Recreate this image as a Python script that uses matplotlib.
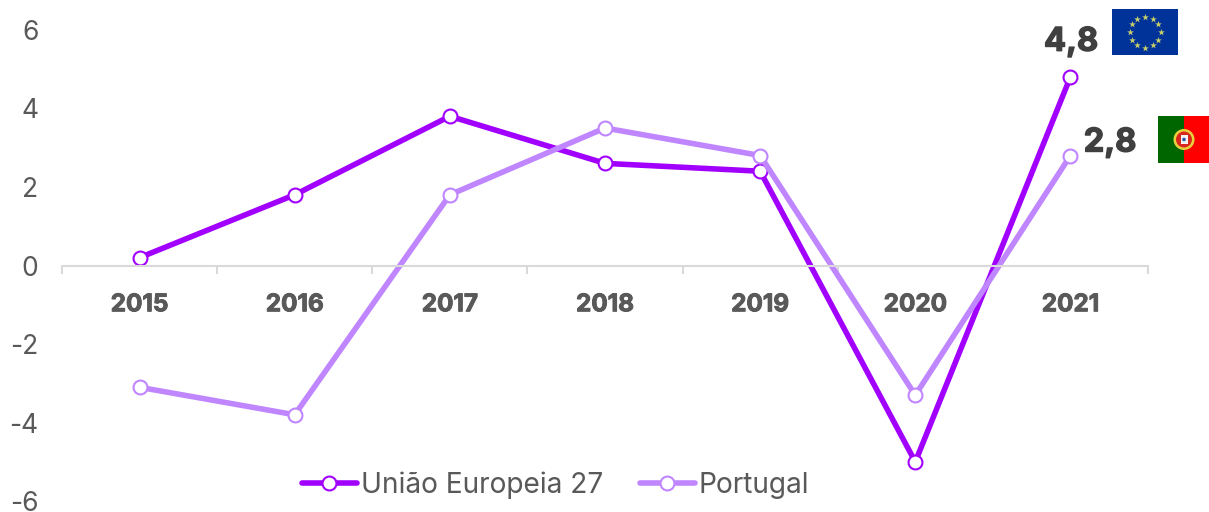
import numpy as np
import matplotlib
matplotlib.use("Agg")
import matplotlib.pyplot as plt
import matplotlib.patheffects as pe
from matplotlib.patches import Rectangle, Circle

W, H = 1209, 512

years = ["2015", "2016", "2017", "2018", "2019", "2020", "2021"]
ue27 = [0.2, 1.8, 3.8, 2.6, 2.4, -5.0, 4.8]
portugal = [-3.1, -3.8, 1.8, 3.5, 2.8, -3.3, 2.8]
y_ticks = [-6, -4, -2, 0, 2, 4, 6]

COL_UE = "#a100ff"
COL_PT = "#bf86ff"
COL_TXT = "#595959"
COL_VAL = "#404040"
COL_AXIS = "#d9d9d9"
BASE_FONT = "Inter"
BOLD_FONT = "Inter"

plt.rcParams["font.family"] = [BASE_FONT, "DejaVu Sans"]

fig = plt.figure(figsize=(W / 100, H / 100), dpi=100)
ax = fig.add_axes([62 / W, 1 - 501.2 / H, (1148 - 62) / W, (501.2 - 29.8) / H])

x = np.arange(len(years))
for vals, col, name in [(ue27, COL_UE, "União Europeia 27"), (portugal, COL_PT, "Portugal")]:
    ax.plot(x, vals, color=col, lw=4, marker="o", ms=10, mfc="white", mec=col, mew=1.5,
            label=name, solid_capstyle="round", solid_joinstyle="round", clip_on=False)

ax.set_xlim(-0.5, 6.5)
ax.set_ylim(-6, 6)
for s in ["top", "left", "right"]:
    ax.spines[s].set_visible(False)
ax.spines["bottom"].set_position(("data", 0))
ax.spines["bottom"].set_color(COL_AXIS)
ax.spines["bottom"].set_linewidth(1.5)

ax.set_xticks(x)
ax.set_xticklabels(years, fontsize=17.5, fontweight="bold", family=BOLD_FONT, color=COL_TXT,
                   path_effects=[pe.withStroke(linewidth=0.7, foreground=COL_TXT)])
ax.set_xticks(np.arange(-0.5, 7), minor=True)
ax.tick_params(axis="x", which="major", length=0, pad=20)
ax.tick_params(axis="x", which="minor", length=6, width=1.5, color=COL_AXIS)
ax.set_yticks(y_ticks)
ax.set_yticklabels([str(v) for v in y_ticks], fontsize=19, color=COL_TXT, va="center_baseline")
ax.tick_params(axis="y", length=0, pad=17)

# value labels for 2021
stroke = [pe.withStroke(linewidth=1.0, foreground=COL_VAL)]
ax.annotate("4,8", (6, ue27[6]), xytext=(0.5, 25), textcoords="offset points", ha="center", va="center",
            fontsize=23.5, fontweight="bold", family=BOLD_FONT, color=COL_VAL, path_effects=stroke)
ax.annotate("2,8", (6, portugal[6]), xytext=(28.5, 9), textcoords="offset points", ha="center", va="center",
            fontsize=23.5, fontweight="bold", family=BOLD_FONT, color=COL_VAL, path_effects=stroke)

leg = ax.legend(loc="center", bbox_to_anchor=(555.5 / W, 1 - 485 / H), bbox_transform=fig.transFigure,
                ncol=2, frameon=False, fontsize=20.2, handlelength=1.96, handletextpad=0.14,
                columnspacing=1.32, borderpad=0, borderaxespad=0)
for t in leg.get_texts():
    t.set_color(COL_TXT)

# flags, drawn in pixel coordinates
ov = fig.add_axes([0, 0, 1, 1])
ov.set_xlim(0, W)
ov.set_ylim(H, 0)
ov.axis("off")
ov.patch.set_alpha(0)

ov.add_patch(Rectangle((1112, 9), 66, 46, color="#003399", lw=0))
ang = np.arange(12) * np.pi / 6
ov.scatter(1145 + 15.5 * np.sin(ang), 32 - 15.5 * np.cos(ang), marker="*", s=26, color="#c8cf6a", lw=0)

ov.add_patch(Rectangle((1158, 116), 26, 47, color="#006600", lw=0))
ov.add_patch(Rectangle((1184, 116), 25, 47, color="#ff0000", lw=0))
ov.add_patch(Circle((1184, 139.5), 10.5, fc="#e8d23c", ec="none"))
ov.add_patch(Circle((1184, 139.5), 8, fc="#d8281e", ec="none"))
ov.add_patch(Rectangle((1180.5, 135), 7, 9, fc="#f2f2f2", ec="none"))
ov.add_patch(Circle((1184, 139.5), 1.8, fc="#2f55a5", ec="none"))

fig.savefig("out.png", dpi=100)
